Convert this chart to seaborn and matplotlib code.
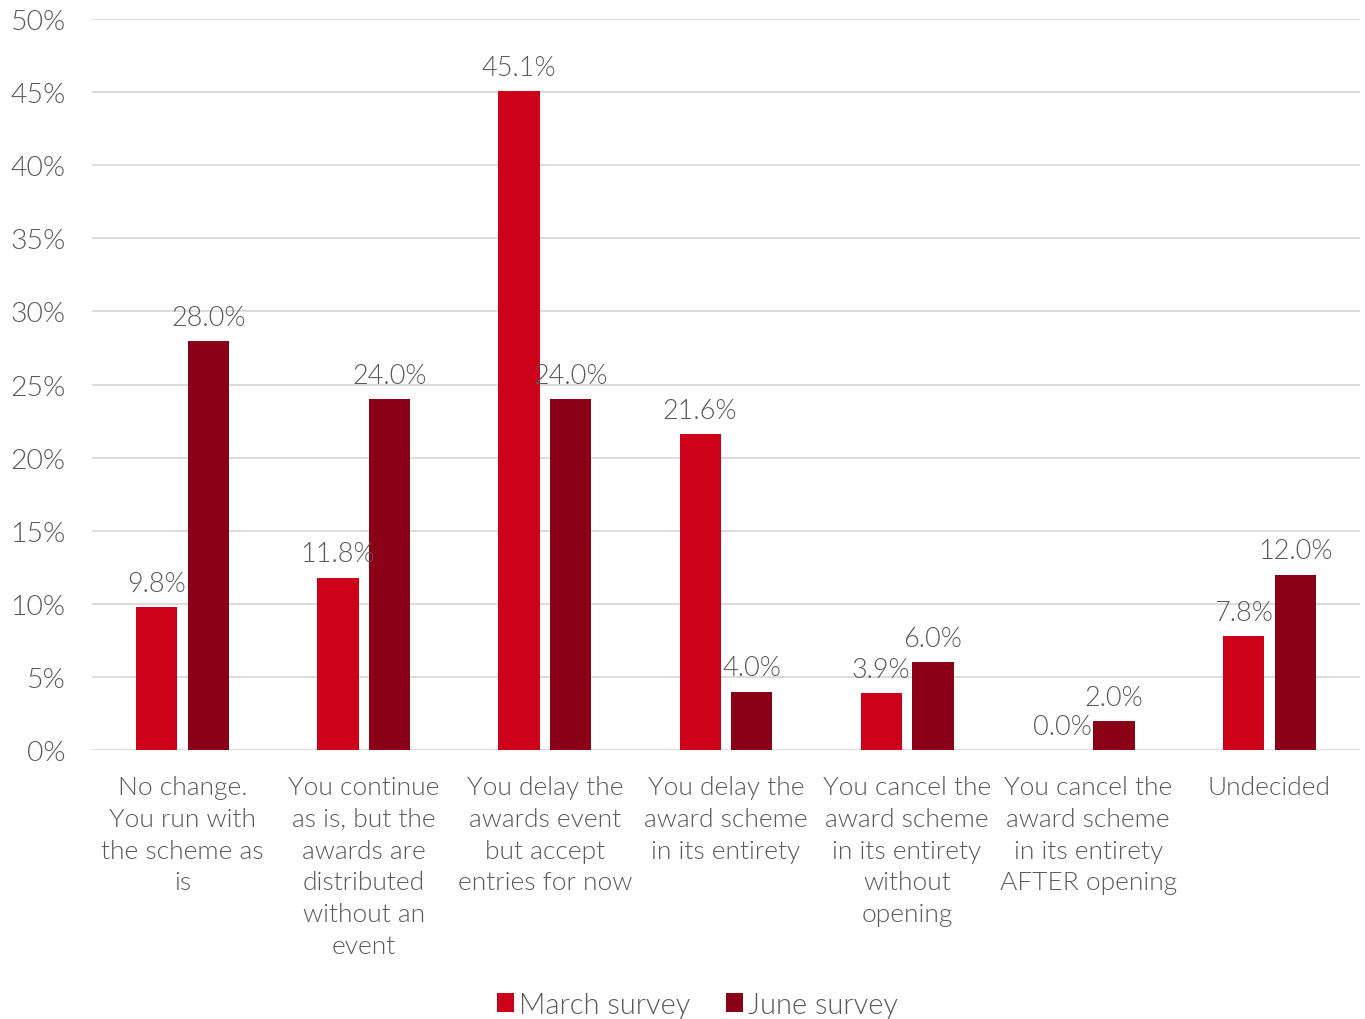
import matplotlib
matplotlib.use("Agg")
import matplotlib.pyplot as plt
from matplotlib.patches import Patch
import seaborn as sns
import pandas as pd

categories = [
    "No change.\nYou run with\nthe scheme as\nis",
    "You continue\nas is, but the\nawards are\ndistributed\nwithout an\nevent",
    "You delay the\nawards event\nbut accept\nentries for now",
    "You delay the\naward scheme\nin its entirety",
    "You cancel the\naward scheme\nin its entirety\nwithout\nopening",
    "You cancel the\naward scheme\nin its entirety\nAFTER opening",
    "Undecided",
]
march = [9.8, 11.8, 45.1, 21.6, 3.9, 0.0, 7.8]
june = [28.0, 24.0, 24.0, 4.0, 6.0, 2.0, 12.0]
series = ["March survey", "June survey"]
colors = ["#CC0019", "#8A0016"]

df = pd.DataFrame({
    "category": categories * 2,
    "survey": [series[0]] * len(categories) + [series[1]] * len(categories),
    "value": march + june,
})

sns.set_theme(style="white")
plt.rcParams["font.family"] = ["Lato", "DejaVu Sans"]
text_color = "#595959"
W = 300

fig = plt.figure(figsize=(13.65, 10.2), dpi=100)
ax = fig.add_axes([0.0674, 0.2637, 0.9289, 0.7167])

sns.barplot(data=df, x="category", y="value", hue="survey",
            palette=colors, width=0.57, gap=0.2, ax=ax,
            legend=False, saturation=1, edgecolor="none")

ax.set_ylim(0, 50)
ax.set_xlim(-0.5, len(categories) - 0.5)
ax.set_yticks(range(0, 51, 5))
ax.set_yticklabels([f"{v}%" for v in range(0, 51, 5)])
ax.yaxis.grid(True, color="#D9D9D9", linewidth=1.3)
ax.set_axisbelow(True)
for s in ax.spines.values():
    s.set_visible(False)
ax.set_xlabel("")
ax.set_ylabel("")
ax.tick_params(axis="y", length=0, pad=19, labelsize=20.5, labelcolor=text_color)
ax.tick_params(axis="x", length=0, pad=18, labelsize=19, labelcolor=text_color)
for lbl in ax.get_yticklabels() + ax.get_xticklabels():
    lbl.set_fontweight(W)
    lbl.set_color(text_color)
for lbl in ax.get_xticklabels():
    lbl.set_linespacing(1.41)

for container in ax.containers:
    ax.bar_label(container, labels=[f"{b.get_height():.1f}%" for b in container],
                 padding=8, fontsize=19.5, color=text_color, fontweight=W)

handles = [Patch(facecolor=c, edgecolor="none") for c in colors]
leg = fig.legend(handles, series, loc="center", bbox_to_anchor=(0.511, 0.014),
                 ncol=2, frameon=False, handlelength=0.6, handleheight=0.6,
                 handletextpad=0.18, columnspacing=1.2,
                 prop={"weight": W, "size": 21})
for t in leg.get_texts():
    t.set_color(text_color)

fig.savefig("out.png", dpi=100)
